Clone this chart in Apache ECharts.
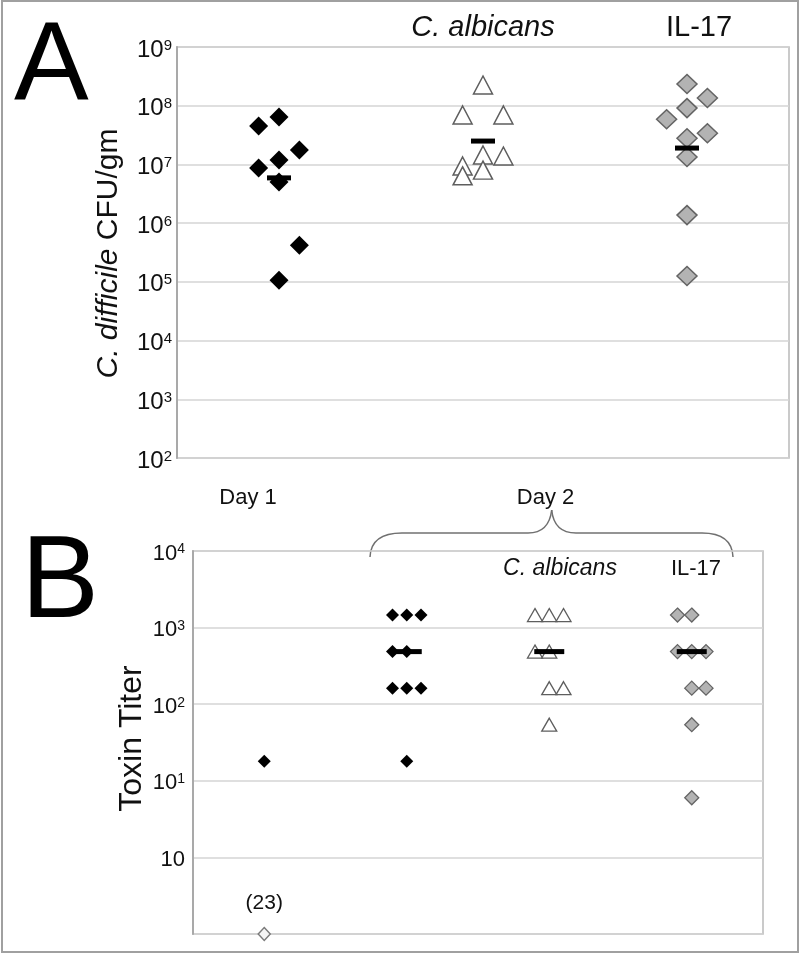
<!DOCTYPE html>
<html><head><meta charset="utf-8">
<script src="https://cdn.jsdelivr.net/npm/echarts@6/dist/echarts.min.js"></script>
<style>html,body{margin:0;padding:0;background:#fff}#c{width:800px;height:954px}</style>
</head><body><div id="c"></div>
<script>
// ---------- Data ----------
const groupsA = ['Day 1', 'C. albicans', 'IL-17'];
const groupsB = ['Day 1', 'Day 2', 'C. albicans', 'IL-17'];

// Panel A: C. difficile CFU/gm, points as [swarm slot, value]
const cfuDay1 = [[-1, 4.5e7], [0, 6.4e7], [1, 1.76e7], [0, 1.19e7], [-1, 8.7e6], [0, 5.0e6], [1, 4.2e5], [0, 1.07e5]];
const cfuAlbicans = [[0, 2.25e8], [-1, 6.95e7], [1, 6.95e7], [0, 1.45e7], [1, 1.39e7], [-1, 9.4e6], [0, 8.0e6], [-1, 6.4e6]];
const cfuIL17 = [[0, 2.34e8], [1, 1.35e8], [0, 9.1e7], [-1, 5.9e7], [1, 3.4e7], [0, 2.8e7], [0, 1.34e7], [0, 1.37e6], [0, 1.26e5]];
const cfuMeans = [5.9e6, 2.5e7, 1.9e7];

// Panel B: Toxin titer, points as [swarm slot, value]
const toxDay1 = [[0, 18]];
const toxDay1Undetected = [[0, 0.1]];
const undetectedLabel = '(23)';
const toxDay2 = [[-1, 1458], [0, 1458], [1, 1458], [-1, 486], [0, 486], [-1, 162], [0, 162], [1, 162], [0, 18]];
const toxAlbicans = [[-1, 1458], [0, 1458], [1, 1458], [-1, 486], [0, 486], [0, 162], [1, 162], [0, 54]];
const toxIL17 = [[-1, 1458], [0, 1458], [-1, 486], [0, 486], [1, 486], [0, 162], [1, 162], [0, 54], [0, 6]];
const toxMedians = [486, 486, 486]; // Day 2, C. albicans, IL-17

// Tick labels (base^exponent)
const ticksA = ['10^2', '10^3', '10^4', '10^5', '10^6', '10^7', '10^8', '10^9'];
const ticksB = ['', '10', '10^1', '10^2', '10^3', '10^4'];

// ---------- Chart ----------
const SLOT = 0.1;
const FONT = 'Liberation Sans, Arial, Helvetica, sans-serif';
const place = (col, pts) => pts.map(p => [col + 0.5 + p[0] * SLOT, p[1]]);

function tickFormatter(list, minExp) {
  return v => {
    const idx = Math.round(Math.log10(v)) - minExp;
    const s = list[idx];
    if (!s) return '';
    const parts = s.split('^');
    return parts.length > 1 ? '{b|' + parts[0] + '}{s|' + parts[1] + '}' : '{b|' + parts[0] + '}';
  };
}

const chart = echarts.init(document.getElementById('c'), null, {renderer: 'canvas'});

const gridStyle = {show: true, borderColor: '#b9b9b9', borderWidth: 1.5, backgroundColor: '#fff'};
const solid = (o) => Object.assign({opacity: 1}, o);

const option = {
  backgroundColor: '#fff',
  animation: false,
  grid: [
    Object.assign({left: 177, top: 47, width: 612, height: 411}, gridStyle),
    Object.assign({left: 193, top: 551, width: 570, height: 383}, gridStyle)
  ],
  xAxis: [
    {gridIndex: 0, type: 'value', min: 0, max: groupsA.length, show: false},
    {gridIndex: 1, type: 'value', min: 0, max: groupsB.length, show: false}
  ],
  yAxis: [
    {
      gridIndex: 0, type: 'log', logBase: 10, min: 1e2, max: 1e9, splitNumber: 7,
      axisLine: {show: true, lineStyle: {color: '#a9a9a9', width: 2}},
      axisTick: {show: false},
      splitLine: {show: true, lineStyle: {color: '#d4d4d4', width: 1.5}},
      axisLabel: {
        margin: 5, formatter: tickFormatter(ticksA, 2), padding: [6, 0, 0, 0],
        rich: {
          b: {fontFamily: FONT, fontSize: 24, lineHeight: 24, color: '#111', verticalAlign: 'bottom'},
          s: {fontFamily: FONT, fontSize: 15, lineHeight: 15, color: '#111', verticalAlign: 'top'}
        }
      }
    },
    {
      gridIndex: 1, type: 'log', logBase: 10, min: 0.1, max: 1e4, splitNumber: 5,
      axisLine: {show: true, lineStyle: {color: '#a9a9a9', width: 2}},
      axisTick: {show: false},
      splitLine: {show: true, lineStyle: {color: '#d4d4d4', width: 1.5}},
      axisLabel: {
        margin: 8, formatter: tickFormatter(ticksB, -1), padding: [5, 0, 0, 0],
        rich: {
          b: {fontFamily: FONT, fontSize: 22, lineHeight: 22, color: '#111', verticalAlign: 'bottom'},
          s: {fontFamily: FONT, fontSize: 14, lineHeight: 14, color: '#111', verticalAlign: 'top'}
        }
      }
    }
  ],
  series: [
    // Panel A
    {type: 'scatter', xAxisIndex: 0, yAxisIndex: 0, clip: false, symbol: 'diamond', symbolSize: [19, 19],
      itemStyle: solid({color: '#000'}), data: place(0, cfuDay1)},
    {type: 'scatter', xAxisIndex: 0, yAxisIndex: 0, clip: false, symbol: 'triangle', symbolSize: [19, 18],
      itemStyle: solid({color: '#fff', borderColor: '#5e5e5e', borderWidth: 1.5}), data: place(1, cfuAlbicans)},
    {type: 'scatter', xAxisIndex: 0, yAxisIndex: 0, clip: false, symbol: 'diamond', symbolSize: [20, 19],
      itemStyle: solid({color: '#b3b3b3', borderColor: '#646464', borderWidth: 1.5}), data: place(2, cfuIL17)},
    {type: 'scatter', xAxisIndex: 0, yAxisIndex: 0, clip: false, symbol: 'rect', symbolSize: [24, 5], z: 5,
      itemStyle: solid({color: '#000'}), data: cfuMeans.map((v, i) => [i + 0.5, v])},
    // Panel B
    {type: 'scatter', xAxisIndex: 1, yAxisIndex: 1, clip: false, symbol: 'diamond', symbolSize: [13, 13],
      itemStyle: solid({color: '#000'}), data: place(0, toxDay1)},
    {type: 'scatter', xAxisIndex: 1, yAxisIndex: 1, clip: false, symbol: 'diamond', symbolSize: [12, 13],
      itemStyle: solid({color: '#f4f4f4', borderColor: '#7a7a7a', borderWidth: 1.5}),
      label: {show: true, position: 'top', distance: 13, formatter: undetectedLabel,
        fontFamily: FONT, fontSize: 21, color: '#111'},
      data: place(0, toxDay1Undetected)},
    {type: 'scatter', xAxisIndex: 1, yAxisIndex: 1, clip: false, symbol: 'diamond', symbolSize: [13, 13],
      itemStyle: solid({color: '#000'}), data: place(1, toxDay2)},
    {type: 'scatter', xAxisIndex: 1, yAxisIndex: 1, clip: false, symbol: 'triangle', symbolSize: [15, 13],
      itemStyle: solid({color: '#fff', borderColor: '#5e5e5e', borderWidth: 1.3}), data: place(2, toxAlbicans)},
    {type: 'scatter', xAxisIndex: 1, yAxisIndex: 1, clip: false, symbol: 'diamond', symbolSize: [14, 14],
      itemStyle: solid({color: '#b3b3b3', borderColor: '#646464', borderWidth: 1.3}), data: place(3, toxIL17)},
    {type: 'scatter', xAxisIndex: 1, yAxisIndex: 1, clip: false, symbol: 'rect', symbolSize: [30, 5], z: 5,
      itemStyle: solid({color: '#000'}), data: toxMedians.map((v, i) => [i + 1.5, v])}
  ],
  graphic: [
    {type: 'rect', shape: {x: 2, y: 1, width: 796, height: 951}, style: {fill: 'none', stroke: '#a0a0a0', lineWidth: 2}, z: -1},
    {type: 'text', x: 14, y: 68, style: {text: 'A', font: '112px ' + FONT, fill: '#000', align: 'left', verticalAlign: 'middle'}},
    {type: 'text', x: 21, y: 585, style: {text: 'B', font: '117px ' + FONT, fill: '#000', align: 'left', verticalAlign: 'middle'}},
    {type: 'text', x: 483, y: 28, style: {text: groupsA[1], font: 'italic 29px ' + FONT, fill: '#111', align: 'center', verticalAlign: 'middle'}},
    {type: 'text', x: 699, y: 28, style: {text: groupsA[2], font: '29px ' + FONT, fill: '#111', align: 'center', verticalAlign: 'middle'}},
    {type: 'text', x: 248, y: 498, style: {text: groupsB[0], font: '22px ' + FONT, fill: '#111', align: 'center', verticalAlign: 'middle'}},
    {type: 'text', x: 545.5, y: 498, style: {text: groupsB[1], font: '22px ' + FONT, fill: '#111', align: 'center', verticalAlign: 'middle'}},
    {type: 'text', x: 560, y: 569, style: {text: groupsB[2], font: 'italic 23px ' + FONT, fill: '#111', align: 'center', verticalAlign: 'middle'}},
    {type: 'text', x: 696, y: 569, style: {text: groupsB[3], font: '22px ' + FONT, fill: '#111', align: 'center', verticalAlign: 'middle'}},
    {type: 'text', x: 109, y: 253.5, rotation: Math.PI / 2,
      style: {text: '{i|C. difficile} CFU/gm', font: '30px ' + FONT, fill: '#111', align: 'center', verticalAlign: 'middle',
        rich: {i: {fontStyle: 'italic', fontFamily: FONT, fontSize: 30, fill: '#111', color: '#111'}}}},
    {type: 'text', x: 132, y: 738.5, rotation: Math.PI / 2,
      style: {text: 'Toxin Titer', font: '32px ' + FONT, fill: '#111', align: 'center', verticalAlign: 'middle'}},
    // brace over Day 2 groups
    {type: 'bezierCurve', shape: {x1: 370, y1: 557, cpx1: 371, cpy1: 533, x2: 402, y2: 533}, style: {stroke: '#707070', lineWidth: 1.5, fill: 'none'}},
    {type: 'line', shape: {x1: 402, y1: 533, x2: 528, y2: 533}, style: {stroke: '#707070', lineWidth: 1.5}},
    {type: 'bezierCurve', shape: {x1: 528, y1: 533, cpx1: 549, cpy1: 533, x2: 551.7, y2: 510}, style: {stroke: '#707070', lineWidth: 1.5, fill: 'none'}},
    {type: 'bezierCurve', shape: {x1: 551.7, y1: 510, cpx1: 554, cpy1: 533, x2: 576, y2: 533}, style: {stroke: '#707070', lineWidth: 1.5, fill: 'none'}},
    {type: 'line', shape: {x1: 576, y1: 533, x2: 702, y2: 533}, style: {stroke: '#707070', lineWidth: 1.5}},
    {type: 'bezierCurve', shape: {x1: 702, y1: 533, cpx1: 732, cpy1: 533, x2: 733, y2: 557}, style: {stroke: '#707070', lineWidth: 1.5, fill: 'none'}}
  ]
};
chart.setOption(option);
</script>
</body></html>
